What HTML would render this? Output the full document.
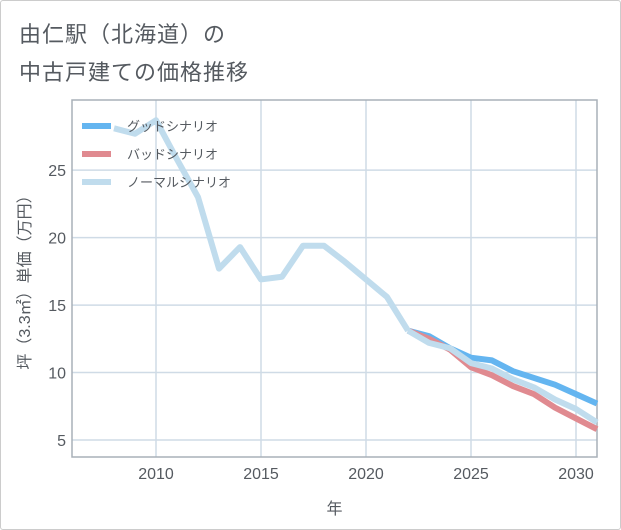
<!DOCTYPE html>
<html><head><meta charset="utf-8"><style>
body{margin:0;background:#fff;font-family:"Liberation Sans","Noto Sans CJK JP",sans-serif;}
#wrap{position:relative;width:619px;height:528px;border:1px solid #ccc;border-radius:3px;background:#fff;}
.title{position:absolute;left:18px;font-size:22px;color:#555a60;font-family:"Liberation Sans","Noto Sans CJK JP",sans-serif;letter-spacing:1px;}
</style></head><body>
<div id="wrap">
<div class="title" style="top:16px">由仁駅（北海道）の</div>
<div class="title" style="top:54px">中古戸建ての価格推移</div>
<svg id="chart" width="621" height="530" style="position:absolute;left:-1px;top:-1px"></svg>
</div>
<script>
const histYears=[2008,2009,2010,2011,2012,2013,2014,2015,2016,2017,2018,2019,2020,2021,2022];
const histValues=[28.1,27.7,28.7,25.8,23.0,17.7,19.3,16.9,17.1,19.4,19.4,18.2,16.9,15.6,13.1];
const futYears=[2022,2023,2024,2025,2026,2027,2028,2029,2030,2031];
const goodValues=[13.1,12.7,11.8,11.1,10.9,10.1,9.6,9.1,8.4,7.7];
const badValues=[13.1,12.5,11.7,10.4,9.8,9.0,8.4,7.4,6.6,5.8];
const normalValues=[13.1,12.2,11.8,10.7,10.3,9.5,8.9,8.0,7.3,6.3];
const xTicks=[2010,2015,2020,2025,2030];
const yTicks=[5,10,15,20,25];
const legendLabels=["グッドシナリオ","バッドシナリオ","ノーマルシナリオ"];
const colors=["#64b5f0","#e08a90","#c0dced"];
const L=72,R=597,T=100,B=457,xMin=2006,xMax=2031,yMin=3.74,yMax=30.2;
const X=v=>L+(v-xMin)/(xMax-xMin)*(R-L);
const Y=v=>B-(v-yMin)/(yMax-yMin)*(B-T);
const svg=document.getElementById('chart');
const NS='http://www.w3.org/2000/svg';
function mk(t,a){const e=document.createElementNS(NS,t);for(const k in a)e.setAttribute(k,a[k]);svg.appendChild(e);return e;}
xTicks.forEach(t=>{
 const g=mk('line',{x1:X(t),x2:X(t),y1:T,y2:B,stroke:'#cfdbe6','stroke-width':1.5});
 
 
 const tx=mk('text',{x:X(t),y:B+22,'text-anchor':'middle','font-size':16,fill:'#555a60'});
 tx.textContent=t;
 
 
});
yTicks.forEach(t=>{
 const g=mk('line',{x1:L,x2:R,y1:Y(t),y2:Y(t),stroke:'#cfdbe6','stroke-width':1.5});
 
 
 const tx=mk('text',{x:L-6,y:Y(t)+6,'text-anchor':'end','font-size':16,fill:'#555a60'});
 tx.textContent=t;
 
 
});
const frame=mk('rect',{x:L,y:T,width:R-L,height:B-T,fill:'none',stroke:'#a8b0b8','stroke-width':1.5});


function line(xs,ys,c,name){
 const p=mk('polyline',{points:xs.map((x,i)=>X(x)+','+Y(ys[i])).join(' '),fill:'none',stroke:c,'stroke-width':6,'stroke-linejoin':'round'});
 
 
}
line(futYears,goodValues,colors[0],'good-scenario-line');
line(futYears,badValues,colors[1],'bad-scenario-line');
line(futYears,normalValues,colors[2],'normal-scenario-line');
line(histYears,histValues,colors[2],'historical-price-line');
legendLabels.forEach((s,i)=>{
 const y=126+i*28;
 const l=mk('line',{x1:82,x2:111,y1:y,y2:y,stroke:colors[i],'stroke-width':6});
 
 
 const t=mk('text',{x:127,y:y+5,'font-size':13,fill:'#555a60'});
 t.textContent=s;
 
 
});
const xt=mk('text',{x:(L+R)/2,y:514,'text-anchor':'middle','font-size':16,fill:'#555a60'});
xt.textContent='年';


const yt=mk('text',{x:0,y:0,'text-anchor':'middle','font-size':16,fill:'#555a60',transform:'translate(30,'+((T+B)/2)+') rotate(-90)'});
yt.textContent='坪（3.3㎡）単価（万円）';


</script>
</body></html>
